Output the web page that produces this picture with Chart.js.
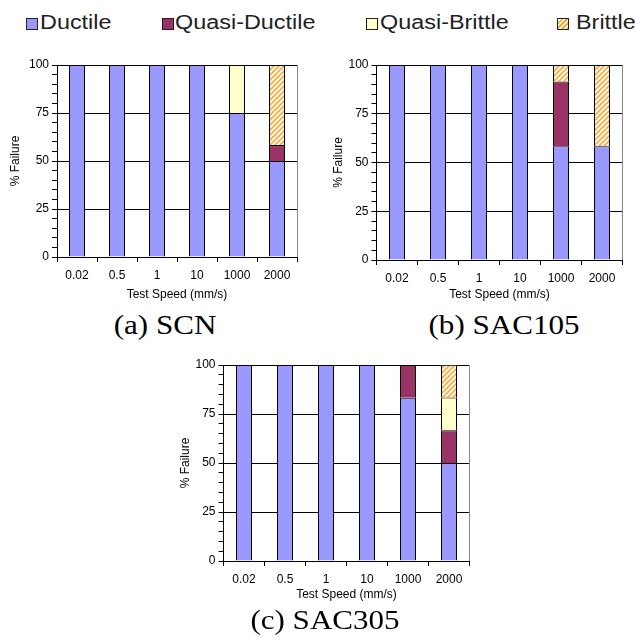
<!DOCTYPE html>
<html>
<head>
<meta charset="utf-8">
<script src="https://cdn.jsdelivr.net/npm/chart.js@4.4.0/dist/chart.umd.min.js"></script>
<style>
body { margin: 0; background: #fff; width: 635px; height: 644px; position: relative; overflow: hidden; font-family: "Liberation Sans", Arial, sans-serif; }
canvas { position: absolute; }
.lg-box { position: absolute; top: 18px; width: 10px; height: 10px; border: 1px solid #222; }
.lg-text { position: absolute; top: 11px; font-size: 20px; line-height: 22px; color: #222; white-space: nowrap; transform: scaleX(1.17); transform-origin: left center; }
.caption { position: absolute; font-family: "Liberation Serif", "Times New Roman", serif; font-size: 27px; line-height: 30px; color: #000; white-space: nowrap; transform: translateX(-50%) scaleX(1.15); }
</style>
</head>
<body>

<div class="lg-box" style="left:26px; background:#9999FF"></div>
<div class="lg-text" style="left:40px">Ductile</div>
<div class="lg-box" style="left:162px; background:#993366"></div>
<div class="lg-text" style="left:175px">Quasi-Ductile</div>
<div class="lg-box" style="left:366px; background:#FFFFCC"></div>
<div class="lg-text" style="left:380px">Quasi-Brittle</div>
<div class="lg-box" style="left:557px; background:repeating-linear-gradient(-45deg, #FFA933 0 1.5px, #fff 1.5px 3.5px)"></div>
<div class="lg-text" style="left:576px">Brittle</div>

<canvas id="chartSCN" width="310" height="260" style="left:0; top:50px"></canvas>
<canvas id="chartSAC105" width="315" height="260" style="left:320px; top:50px"></canvas>
<canvas id="chartSAC305" width="310" height="260" style="left:170px; top:350px"></canvas>

<div class="caption" style="left:165px; top:310px">(a) SCN</div>
<div class="caption" style="left:504px; top:310px">(b) SAC105</div>
<div class="caption" style="left:325px; top:605px">(c) SAC305</div>

<script>
// test speeds (mm/s)
const categories = ['0.02', '0.5', '1', '10', '1000', '2000'];
const seriesNames = ['Ductile', 'Quasi-Ductile', 'Quasi-Brittle', 'Brittle'];
const yMajorTicks = [0, 25, 50, 75, 100];

// (a) SCN - % failure by mode
const scnDuctile      = [100, 100, 100, 100, 75, 50];
const scnQuasiDuctile = [0, 0, 0, 0, 0, 8.3];
const scnQuasiBrittle = [0, 0, 0, 0, 25, 0];
const scnBrittle      = [0, 0, 0, 0, 0, 41.7];

// (b) SAC105
const sac105Ductile      = [100, 100, 100, 100, 58.3, 58.3];
const sac105QuasiDuctile = [0, 0, 0, 0, 33.3, 0];
const sac105QuasiBrittle = [0, 0, 0, 0, 0, 0];
const sac105Brittle      = [0, 0, 0, 0, 8.3, 41.7];

// (c) SAC305
const sac305Ductile      = [100, 100, 100, 100, 83.3, 50];
const sac305QuasiDuctile = [0, 0, 0, 0, 16.7, 16.7];
const sac305QuasiBrittle = [0, 0, 0, 0, 0, 16.7];
const sac305Brittle      = [0, 0, 0, 0, 0, 16.7];

Chart.defaults.font.family = '"Liberation Sans", Arial, sans-serif';
Chart.defaults.color = '#000';

// orange hatch for the brittle segments
function makeHatch() {
    const c = document.createElement('canvas');
    c.width = 5; c.height = 5;
    const g = c.getContext('2d');
    g.fillStyle = '#fff';
    g.fillRect(0, 0, 5, 5);
    g.strokeStyle = '#FFA933';
    g.lineWidth = 1.6;
    g.beginPath();
    g.moveTo(0, 5); g.lineTo(5, 0);
    g.moveTo(-1, 1); g.lineTo(1, -1);
    g.moveTo(4, 6); g.lineTo(6, 4);
    g.stroke();
    return g.createPattern(c, 'repeat');
}

const fills = ['#9999FF', '#993366', '#FFFFCC', makeHatch()];

// grey right edge of the plot area
const plotFrame = {
    id: 'plotFrame',
    beforeDatasetsDraw(chart) {
        const { ctx, chartArea: a } = chart;
        const x = Math.round(a.right - 0.5) + 0.5;
        ctx.save();
        ctx.strokeStyle = '#888';
        ctx.lineWidth = 1;
        ctx.beginPath();
        ctx.moveTo(x, a.top);
        ctx.lineTo(x, a.bottom);
        ctx.stroke();
        ctx.restore();
    }
};

function makeChart(id, series, cfg) {
    const datasets = series.map((values, i) => ({
        label: seriesNames[i],
        data: values.map(v => v === 0 ? null : v),
        backgroundColor: fills[i],
        borderColor: '#000',
        borderWidth: { top: 1, left: 1, right: 1, bottom: 0 },
        borderSkipped: false,
        barPercentage: cfg.barPct,
        categoryPercentage: 1
    }));

    return new Chart(document.getElementById(id), {
        type: 'bar',
        data: { labels: categories, datasets: datasets },
        options: {
            responsive: false,
            animation: false,
            layout: { padding: { top: cfg.padTop, right: cfg.padRight, left: 0, bottom: 0 } },
            plugins: { legend: { display: false }, tooltip: { enabled: false } },
            scales: {
                x: {
                    stacked: true,
                    grid: { offset: true, drawOnChartArea: false, drawTicks: true, tickLength: 5, color: '#000' },
                    border: { color: '#000' },
                    ticks: { font: { size: 12 }, padding: 6, maxRotation: 0, autoSkip: false },
                    title: { display: true, text: 'Test Speed (mm/s)', font: { size: 12 }, padding: { top: 0, bottom: 8 } },
                    afterFit: s => { s.height = cfg.xHeight; }
                },
                y: {
                    stacked: true,
                    min: 0,
                    max: 100,
                    ticks: {
                        stepSize: 5,
                        autoSkip: false,
                        font: { size: 12 },
                        padding: 3,
                        callback: v => yMajorTicks.includes(v) ? v : ''
                    },
                    grid: {
                        color: c => (c.tick && yMajorTicks.includes(c.tick.value)) ? '#000' : 'rgba(0,0,0,0)',
                        tickColor: '#000',
                        tickLength: 5
                    },
                    border: { color: '#000' },
                    title: { display: true, text: '% Failure', font: { size: 12 }, padding: { top: cfg.yTitlePad, bottom: 0 } },
                    afterFit: s => { s.width = cfg.yWidth; }
                }
            }
        },
        plugins: [plotFrame]
    });
}

makeChart('chartSCN',
    [scnDuctile, scnQuasiDuctile, scnQuasiBrittle, scnBrittle],
    { padTop: 15, padRight: 13, yWidth: 57, xHeight: 53, yTitlePad: 8, barPct: 0.4 });

makeChart('chartSAC105',
    [sac105Ductile, sac105QuasiDuctile, sac105QuasiBrittle, sac105Brittle],
    { padTop: 15, padRight: 12.5, yWidth: 56.5, xHeight: 50, yTitlePad: 11, barPct: 16 / 41 });

makeChart('chartSAC305',
    [sac305Ductile, sac305QuasiDuctile, sac305QuasiBrittle, sac305Brittle],
    { padTop: 15, padRight: 10.5, yWidth: 53.5, xHeight: 49, yTitlePad: 8, barPct: 16 / 41 });
</script>
</body>
</html>
